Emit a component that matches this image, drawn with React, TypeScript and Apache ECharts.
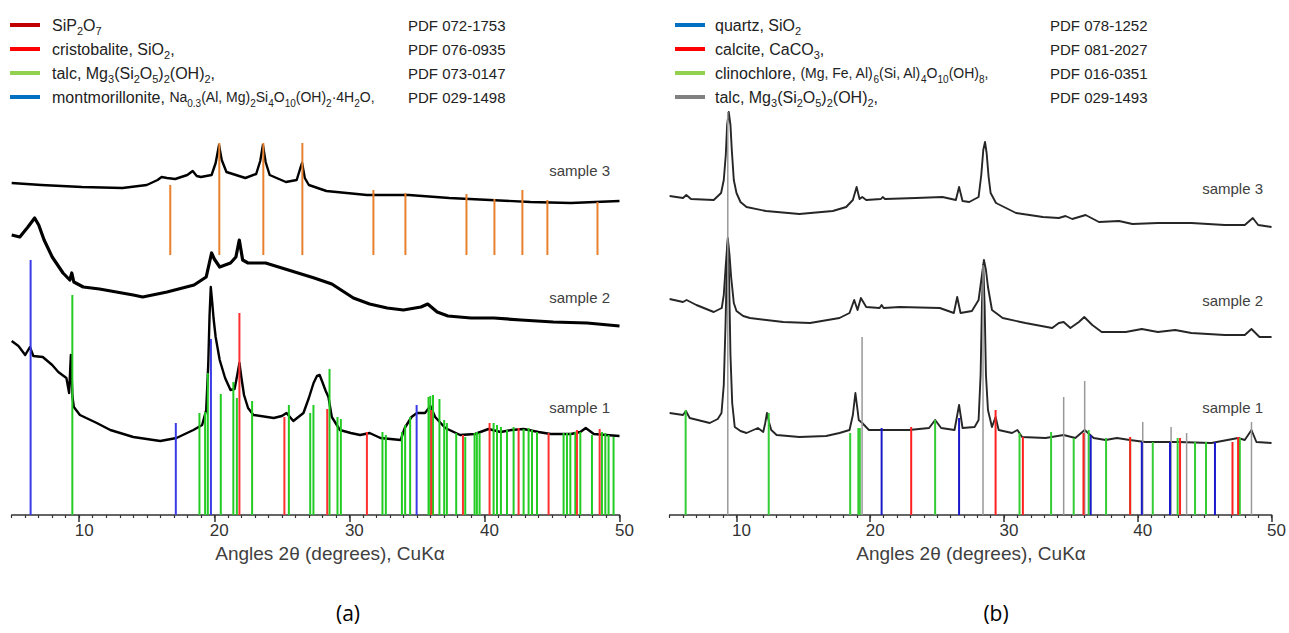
import React, { useEffect, useRef } from "react";
import * as echarts from "echarts";

// ---------- data (intensity in arbitrary units, x in degrees 2θ) ----------
const X_TICKS = [10, 20, 30, 40, 50];

// Panel (a) diffraction patterns
const A_S1: [number, number][] = [[5.0,174],[5.5,169],[6.0,160],[6.35,168],[6.6,159],[7.3,158],[8.0,150],[8.45,143],[9.05,137],[9.25,122],[9.38,160],[9.5,118],[9.6,108],[10.05,100],[11.3,92],[12.3,85],[14.0,78],[16.0,74],[17.2,77],[18.45,85],[19.1,90],[19.4,105],[19.55,150],[19.65,200],[19.74,228],[19.85,212],[19.95,196],[20.1,178],[20.4,155],[20.8,137],[21.2,125],[21.5,126],[21.7,140],[21.86,152],[22.0,138],[22.2,120],[22.5,107],[22.9,100],[24.4,97],[25.0,99],[25.35,102],[25.85,94],[26.6,102],[27.0,117],[27.35,132],[27.6,139],[27.8,140],[28.0,133],[28.25,124],[28.45,118],[28.7,98],[29.3,85],[30.1,82],[30.8,80],[31.5,82],[32.3,77],[33.8,75],[34.1,87],[34.6,98],[35.0,102],[35.6,102],[36.0,109],[36.35,98],[37.1,87],[38.2,80],[39.3,81],[40.3,86],[41.2,83],[42.0,85],[42.9,86],[44.0,83],[44.9,81],[46.4,81],[47.1,83],[47.5,87],[48.1,81],[49.0,80],[50.0,79]];
const A_S2: [number, number][] = [[5.0,280],[5.6,278],[6.2,288],[6.7,297],[7.0,290],[7.4,275],[8.0,258],[8.8,242],[9.3,235],[9.45,242],[9.6,233],[10.3,228],[11.5,226],[14.0,220],[14.7,218],[16.5,223],[18.5,230],[19.4,238],[19.6,250],[19.8,262],[20.0,256],[20.4,248],[21.2,252],[21.6,258],[21.85,275],[22.1,255],[22.5,252],[23.8,252],[25.0,247],[26.2,242],[27.4,237],[28.7,231],[30.3,217],[31.5,211],[32.8,207],[34.0,205],[35.3,208],[35.8,211],[36.5,203],[37.3,199],[39.0,197],[40.7,197],[42.7,195],[45.1,193],[47.6,192],[50.0,189]];
const A_S3: [number, number][] = [[5.0,332],[7.2,330],[10.2,328],[13.2,327],[15.0,330],[15.8,335],[16.1,338],[16.5,337],[17.1,336],[18.0,340],[18.4,344],[18.7,339],[19.0,338],[19.8,340],[20.1,352],[20.35,370],[20.55,355],[20.9,343],[22.3,337],[23.1,341],[23.4,354],[23.6,370],[23.8,353],[24.1,340],[25.3,333],[26.1,335],[26.35,346],[26.5,352],[26.7,337],[27.0,330],[28.3,324],[31.3,320],[34.4,320],[37.4,317],[40.4,315],[43.4,313],[46.4,312],[50.0,314]];

// Panel (a) reference lines: [2θ, relative height] (SiP2O7: [2θ, base, top])
const A_SIP2O7: [number, number, number][] = [[16.74,260,330],[20.37,260,372],[23.63,260,372],[26.52,260,372],[31.78,260,325],[34.15,260,322],[38.67,260,321],[40.74,260,316],[42.81,260,325],[44.66,260,315],[48.37,260,313]];
const A_CRISTOBALITE: [number, number][] = [[21.86,202],[25.19,98],[28.36,106],[31.3,83],[36.06,105],[38.41,80],[40.38,92],[42.53,87],[44.75,82],[46.85,85],[48.53,86]];
const A_TALC: [number, number][] = [[9.49,220],[18.9,102],[19.32,103],[19.52,142],[20.48,121],[21.41,133],[21.67,117],[22.8,114],[25.52,110],[27.1,102],[27.34,110],[28.53,146],[29.12,98],[29.37,96],[32.45,83],[32.7,80],[33.89,83],[34.13,90],[34.5,98],[35.86,118],[35.99,119],[36.19,120],[36.67,116],[37.02,95],[37.22,92],[37.91,82],[38.58,78],[39.27,82],[39.44,83],[39.64,82],[40.68,92],[40.93,90],[41.22,88],[41.67,85],[42.16,88],[42.9,86],[43.27,87],[43.52,85],[43.89,83],[45.86,82],[46.11,82],[46.36,82],[46.73,83],[47.1,83],[47.96,80],[48.7,83],[48.95,82],[49.19,80],[49.56,78]];
const A_MONT: [number, number][] = [[6.4,255],[17.15,92],[19.75,176],[34.98,110]];

// Panel (b) diffraction patterns
const B_S1: [number, number][] = [[5.0,102],[6.0,100],[6.22,104],[6.5,97],[8.0,92],[8.6,96],[8.88,102],[9.05,130],[9.18,190],[9.3,260],[9.36,275],[9.45,235],[9.55,160],[9.68,112],[9.87,88],[10.3,84],[10.75,82],[11.6,87],[12.0,83],[12.15,92],[12.28,102],[12.45,92],[12.6,85],[13.0,80],[14.7,78],[16.7,79],[17.7,82],[18.45,85],[18.7,100],[18.89,122],[19.05,105],[19.14,95],[19.4,92],[19.9,85],[20.9,85],[22.9,85],[24.4,87],[24.85,95],[25.3,87],[26.3,85],[26.64,110],[26.9,87],[27.8,88],[28.1,95],[28.25,140],[28.35,210],[28.45,250],[28.55,210],[28.65,140],[28.8,105],[29.1,88],[29.37,98],[29.6,85],[30.6,82],[31.0,85],[31.35,78],[33.1,77],[34.46,80],[35.33,77],[36.03,85],[36.7,77],[37.6,75],[38.44,77],[39.4,75],[40.55,73],[43.0,73],[45.5,72],[47.5,77],[48.0,75],[48.5,85],[48.87,73],[50.0,72]];
const B_S2: [number, number][] = [[5.0,216],[6.0,213],[6.27,215],[7.0,210],[8.3,203],[8.9,207],[9.05,220],[9.2,250],[9.35,277],[9.48,260],[9.6,238],[9.8,212],[10.0,204],[10.5,199],[11.0,197],[13.5,193],[15.5,192],[17.7,197],[18.45,202],[18.8,215],[19.05,205],[19.3,217],[19.7,208],[20.7,207],[20.85,210],[21.0,207],[22.2,208],[25.2,207],[26.25,202],[26.5,218],[26.75,202],[27.6,204],[28.1,215],[28.3,235],[28.5,255],[28.65,245],[28.8,228],[29.1,205],[29.9,197],[31.6,192],[33.6,187],[34.1,192],[34.46,193],[34.96,187],[35.6,193],[36.0,198],[36.6,190],[37.3,183],[39.1,183],[40.3,186],[41.5,183],[42.8,185],[44.0,182],[46.5,180],[48.0,180],[48.5,186],[49.1,178],[50.0,178]];
const B_S3: [number, number][] = [[5.0,319],[6.0,317],[6.25,320],[6.6,316],[8.3,315],[8.85,322],[9.05,335],[9.2,360],[9.3,390],[9.42,403],[9.55,390],[9.65,365],[9.8,335],[10.0,322],[10.3,313],[10.75,308],[12.2,304],[14.7,301],[17.2,304],[18.2,308],[18.7,315],[18.98,328],[19.2,316],[19.4,318],[19.7,315],[20.8,316],[20.93,318],[21.1,316],[23.4,317],[25.4,318],[26.4,315],[26.64,328],[26.9,314],[27.4,313],[28.1,318],[28.3,340],[28.45,365],[28.58,373],[28.7,362],[28.85,338],[29.0,322],[29.4,312],[30.9,302],[32.9,298],[34.1,297],[34.6,299],[35.1,296],[36.1,300],[37.1,293],[38.6,294],[39.6,291],[41.5,292],[44.0,292],[46.5,290],[48.0,290],[48.6,297],[49.0,290],[50.0,288]];

// Panel (b) reference lines
const B_QUARTZ: [number, number][] = [[20.85,87],[26.64,97],[36.48,80],[40.3,73],[42.41,73],[45.77,73]];
const B_CALCITE: [number, number][] = [[23.06,88],[29.37,105],[31.41,78],[35.94,82],[39.43,78],[43.16,77],[47.08,73],[47.5,78]];
const B_CLINO: [number, number][] = [[6.2,105],[12.41,102],[18.5,82],[19.11,87],[19.22,87],[24.85,95],[31.16,82],[33.52,83],[35.21,77],[36.33,85],[37.63,77],[39.43,77],[41.12,73],[42.98,77],[44.28,73],[45.1,73],[47.63,77]];
const B_TALC: [number, number][] = [[9.35,403],[19.39,178],[28.43,250],[34.46,118],[36.03,134],[40.37,93],[42.49,88],[43.65,82],[48.5,93]];

// Legends
const LEGEND_A_COLORS = ["#C00000", "#FF0000", "#92D050", "#0070C0"];
const LEGEND_A_TEXT = [
  "{n|SiP}{s|2}{n|O}{s|7}",
  "{n|cristobalite, SiO}{s|2}{n|,}",
  "{n|talc, Mg}{s|3}{n|(Si}{s|2}{n|O}{s|5}{n|)}{s|2}{n|(OH)}{s|2}{n|,}",
  "{n|montmorillonite, }{f|Na}{fs|0.3}{f|(Al, Mg)}{fs|2}{f|Si}{fs|4}{f|O}{fs|10}{f|(OH)}{fs|2}{f|·4H}{fs|2}{f|O,}",
];
const LEGEND_A_PDF = ["PDF 072-1753", "PDF 076-0935", "PDF 073-0147", "PDF 029-1498"];
const LEGEND_B_COLORS = ["#0070C0", "#FF0000", "#92D050", "#808080"];
const LEGEND_B_TEXT = [
  "{n|quartz, SiO}{s|2}",
  "{n|calcite, CaCO}{s|3}{n|,}",
  "{n|clinochlore, }{f|(Mg, Fe, Al)}{fs|6}{f|(Si, Al)}{fs|4}{f|O}{fs|10}{f|(OH)}{fs|8}{f|,}",
  "{n|talc, Mg}{s|3}{n|(Si}{s|2}{n|O}{s|5}{n|)}{s|2}{n|(OH)}{s|2}{n|,}",
];
const LEGEND_B_PDF = ["PDF 078-1252", "PDF 081-2027", "PDF 016-0351", "PDF 029-1493"];
const SAMPLE_LABELS = ["sample 3", "sample 2", "sample 1"];
const AXIS_TITLE = "Angles 2θ (degrees), CuKα";

const FONT = "'Liberation Sans', Arial, sans-serif";

const RICH = {
  n: { fontSize: 16, fontFamily: FONT, fill: "#222", lineHeight: 20 },
  s: { fontSize: 11, fontFamily: FONT, fill: "#222", height: 9, lineHeight: 9, verticalAlign: "bottom" },
  f: { fontSize: 14, fontFamily: FONT, fill: "#222" },
  fs: { fontSize: 10, fontFamily: FONT, fill: "#222", height: 8, lineHeight: 8, verticalAlign: "bottom" },
};

function stickSeries(data: number[][], color: string, width: number, axis: number) {
  return {
    type: "custom",
    xAxisIndex: axis * 2,
    yAxisIndex: axis,
    silent: true,
    z: 5,
    data: data.map((d) => (d.length === 3 ? d : [d[0], 0, d[1]])),
    encode: { x: 0, y: [1, 2] },
    renderItem: (_p: any, api: any) => {
      const a = api.coord([api.value(0), api.value(1)]);
      const b = api.coord([api.value(0), api.value(2)]);
      return {
        type: "line",
        shape: { x1: a[0], y1: a[1], x2: b[0], y2: b[1] },
        style: { stroke: color, lineWidth: width },
      };
    },
  };
}

function curve(data: [number, number][], axis: number, color: string, width: number) {
  return {
    type: "line",
    xAxisIndex: axis * 2,
    yAxisIndex: axis,
    data,
    showSymbol: false,
    silent: true,
    z: 3,
    lineStyle: { color, width, join: "round" },
  };
}

function xAxes(grid: number) {
  return [
    {
      type: "value", gridIndex: grid, position: "bottom", min: 5, max: 50, interval: 1,
      axisLine: { show: true, onZero: false, lineStyle: { color: "#333", width: 1.5 } },
      axisTick: { show: true, length: 3, lineStyle: { color: "#333", width: 1.2 } },
      axisLabel: { show: false }, splitLine: { show: false },
    },
    {
      type: "value", gridIndex: grid, position: "bottom", min: 5, max: 50,
      axisLine: { show: false, onZero: false },
      axisTick: { show: true, length: 7, customValues: X_TICKS, lineStyle: { color: "#333", width: 1.5 } },
      axisLabel: { show: true, customValues: X_TICKS, fontSize: 17, color: "#333", fontFamily: FONT, margin: 7, padding: [0, 0, 0, 10] },
      splitLine: { show: false },
    },
  ];
}

function legend(x0: number, xText: number, xPdf: number, colors: string[], texts: string[], pdfs: string[]) {
  const rows = [25, 49, 73, 97];
  const els: any[] = [];
  rows.forEach((y, i) => {
    els.push({ type: "line", shape: { x1: x0, y1: y, x2: x0 + 30, y2: y }, style: { stroke: colors[i], lineWidth: 4 } });
    els.push({ type: "text", x: xText, y, style: { text: texts[i], rich: RICH, textVerticalAlign: "middle", verticalAlign: "middle", fill: "#222" } });
    els.push({ type: "text", x: xPdf, y, style: { text: pdfs[i], fontSize: 15, fontFamily: FONT, fill: "#222", textVerticalAlign: "middle", verticalAlign: "middle" } });
  });
  return els;
}

export default function App() {
  const ref = useRef<HTMLDivElement>(null);
  useEffect(() => {
    document.body.style.margin = "0";
    const chart = echarts.init(ref.current!, null, { renderer: "svg" });
    const sampleYa = [170, 297, 407];
    const sampleYb = [188, 300, 407];
    const graphics: any[] = [
      ...legend(10, 52, 408, LEGEND_A_COLORS, LEGEND_A_TEXT, LEGEND_A_PDF),
      ...legend(675, 715, 1050, LEGEND_B_COLORS, LEGEND_B_TEXT, LEGEND_B_PDF),
      ...SAMPLE_LABELS.map((t, i) => ({ type: "text", x: 610, y: sampleYa[i], style: { text: t, fontSize: 15, fontFamily: FONT, fill: "#404040", textAlign: "right", textVerticalAlign: "middle", verticalAlign: "middle" } })),
      ...SAMPLE_LABELS.map((t, i) => ({ type: "text", x: 1263, y: sampleYb[i], style: { text: t, fontSize: 15, fontFamily: FONT, fill: "#404040", textAlign: "right", textVerticalAlign: "middle", verticalAlign: "middle" } })),
      { type: "text", x: 330, y: 553, style: { text: AXIS_TITLE, fontSize: 19, fontFamily: FONT, fill: "#404040", textAlign: "center", textVerticalAlign: "middle", verticalAlign: "middle" } },
      { type: "text", x: 971, y: 553, style: { text: AXIS_TITLE, fontSize: 19, fontFamily: FONT, fill: "#404040", textAlign: "center", textVerticalAlign: "middle", verticalAlign: "middle" } },
      { type: "text", x: 348, y: 613, style: { text: "(a)", fontSize: 21, fontFamily: "'Open Sans', " + FONT, fill: "#000", textAlign: "center", textVerticalAlign: "middle", verticalAlign: "middle" } },
      { type: "text", x: 996, y: 613, style: { text: "(b)", fontSize: 21, fontFamily: "'Open Sans', " + FONT, fill: "#000", textAlign: "center", textVerticalAlign: "middle", verticalAlign: "middle" } },
    ];
    chart.setOption({
      animation: false,
      backgroundColor: "#fff",
      grid: [
        { left: 11.7, top: 100, width: 607.8, height: 415 },
        { left: 669.6, top: 100, width: 603.7, height: 415 },
      ],
      xAxis: [...xAxes(0), ...xAxes(1)],
      yAxis: [
        { type: "value", gridIndex: 0, min: 0, max: 415, show: false },
        { type: "value", gridIndex: 1, min: 0, max: 415, show: false },
      ],
      series: [
        curve(A_S3, 0, "#000", 2.4),
        curve(A_S2, 0, "#000", 3.2),
        curve(A_S1, 0, "#000", 2.4),
        stickSeries(A_SIP2O7, "#E8802E", 2, 0),
        stickSeries(A_TALC, "#22CC22", 2, 0),
        stickSeries(A_CRISTOBALITE, "#FF3030", 2, 0),
        stickSeries(A_MONT, "#3A3AE8", 2, 0),
        curve(B_S3, 1, "#262626", 1.9),
        curve(B_S2, 1, "#262626", 1.9),
        curve(B_S1, 1, "#262626", 1.9),
        stickSeries(B_TALC, "#999999", 1.5, 1),
        stickSeries(B_CLINO, "#33CC33", 2, 1),
        stickSeries(B_CALCITE, "#FF2020", 2, 1),
        stickSeries(B_QUARTZ, "#1A1ACC", 2, 1),
      ],
      graphic: { elements: graphics },
    });
    return () => chart.dispose();
  }, []);
  return <div ref={ref} style={{ position: "absolute", left: 0, top: 0, width: 1289, height: 633 }} />;
}
